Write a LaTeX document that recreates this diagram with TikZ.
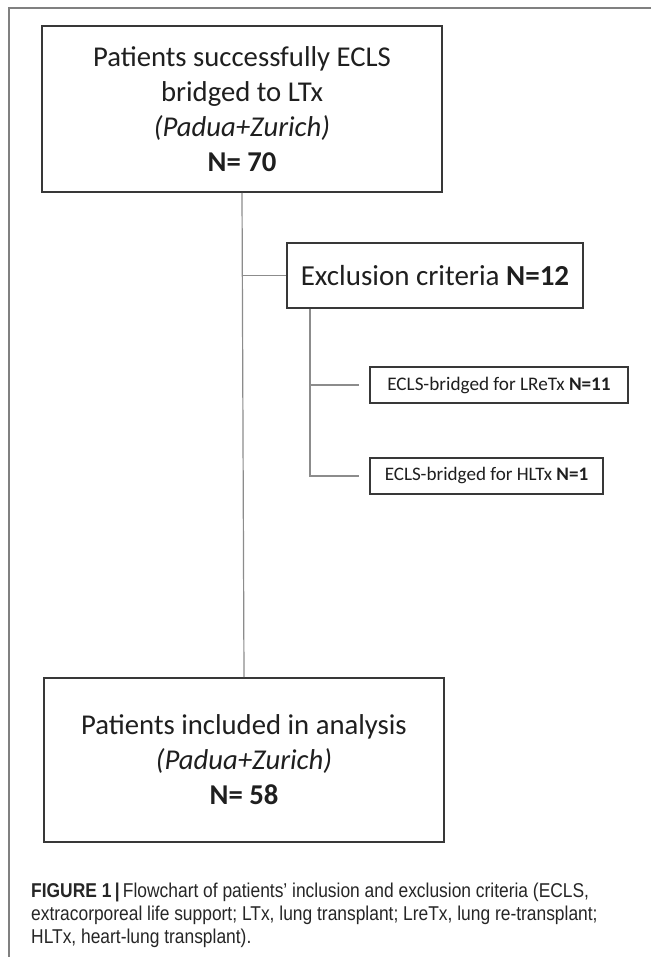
\documentclass[tikz,border=0pt]{standalone}
\usepackage{fontspec}
\setmainfont{Carlito}
\newfontfamily\capfont[FakeStretch=0.87]{Liberation Sans}
\begin{document}
\begin{tikzpicture}[x=1pt,y=-1pt,
  bigbox/.style={draw=black!78, line width=2pt, rectangle, inner sep=0pt, align=center, text=black!88},
  smallbox/.style={draw=black!78, line width=1.5pt, rectangle, inner sep=0pt, align=center, text=black!88},
  conn/.style={draw=black!45, line width=1.2pt},
  frame/.style={draw=black!50, line width=1.5pt},
  captext/.style={anchor=west, inner sep=0pt, text=black!85, font=\capfont\fontsize{20}{23}\selectfont}]
\useasboundingbox (0,0) rectangle (651,957);
\fill[white] (0,0) rectangle (651,957);
\draw[frame] (651,8) -- (9,8) -- (9,957);

\node[bigbox, minimum width=400pt, minimum height=166pt, font=\fontsize{28.7}{35}\selectfont] (top) at (242,109)
  {Patients successfully ECLS\\bridged to LTx\\\textit{(Padua+Zurich)}\\\textbf{N= 70}};
\node[bigbox, minimum width=296pt, minimum height=65pt, font=\fontsize{29}{35}\selectfont] (excl) at (435,275.5)
  {Exclusion criteria \textbf{N=12}};
\node[smallbox, minimum width=258pt, minimum height=36pt, font=\fontsize{19.2}{23}\selectfont] (lre) at (499,385)
  {ECLS-bridged for LReTx \textbf{N=11}};
\node[smallbox, minimum width=233pt, minimum height=36pt, font=\fontsize{19.1}{23}\selectfont] (hl) at (486.5,476)
  {ECLS-bridged for HLTx \textbf{N=1}};
\node[bigbox, minimum width=400pt, minimum height=164pt, font=\fontsize{28.7}{35}\selectfont] (bot) at (244,760)
  {Patients included in analysis\\\textit{(Padua+Zurich)}\\\textbf{N= 58}};

\draw[conn] (top.south) -- (bot.north);
\coordinate (j1) at (top.south |- excl.west);
\draw[conn] (j1) -- (excl.west);
\coordinate (s0) at ([xshift=24pt]excl.south west);
\coordinate (s1) at (s0 |- lre.west);
\coordinate (s2) at (s0 |- hl.west);
\coordinate (e1) at ([xshift=-10pt]lre.west);
\coordinate (e2) at ([xshift=-10pt]hl.west);
\draw[conn] (s0) -- (s2) -- (e2);
\draw[conn] (s1) -- (e1);

\node[captext] (cap1) at (31,892) {\textbf{FIGURE 1}\,\textbf{|}\,Flowchart of patients’ inclusion and exclusion criteria (ECLS,};
\node[captext] (cap2) at (31,915) {extracorporeal life support; LTx, lung transplant; LreTx, lung re-transplant;};
\node[captext] (cap3) at (31,938) {HLTx, heart-lung transplant).};
\end{tikzpicture}
\end{document}
